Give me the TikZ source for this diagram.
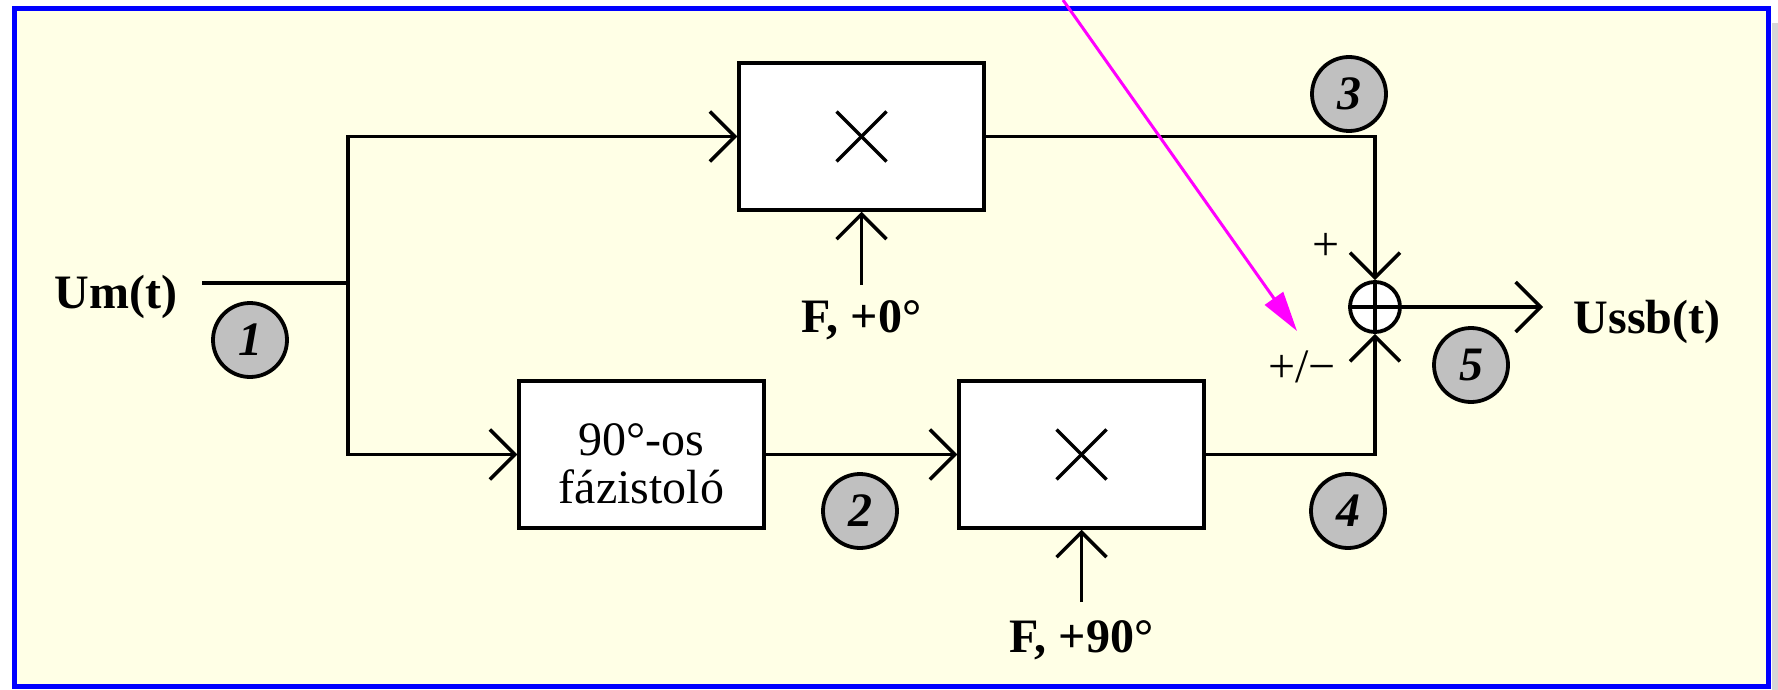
\documentclass[tikz,border=0pt]{standalone}
\usepackage{fontspec}
\setmainfont{Liberation Serif}
\usetikzlibrary{arrows.meta}
\definecolor{bgyellow}{RGB}{255,255,230}
\definecolor{badgegray}{RGB}{192,192,192}
\definecolor{shadowgray}{RGB}{214,214,214}
\definecolor{pinkarrow}{RGB}{255,0,255}
\tikzset{
  wire/.style={line width=1.75pt, black},
  arr/.style={wire, -{Straight Barb[length=12.5pt,width=25pt,line width=1.75pt]}},
  mixbox/.style={draw, fill=white, line width=1.75pt, minimum width=122.5pt, minimum height=73.5pt, inner sep=0pt},
  sumnode/.style={circle, draw, fill=white, line width=1.9pt, minimum size=25pt, inner sep=0pt},
  badge/.style={circle, draw, fill=badgegray, line width=1.9pt, minimum size=37pt, inner sep=0pt, font=\fontsize{24}{28}\selectfont\bfseries\itshape},
  lbl/.style={font=\fontsize{24}{28}\selectfont\bfseries, inner sep=0pt, anchor=base},
  plain/.style={font=\fontsize{24}{28}\selectfont, inner sep=0pt},
  pointer/.style={line width=1.5pt, pinkarrow, -{Triangle[length=20pt,width=11pt]}}
}
\begin{document}
\begin{tikzpicture}[x=0.5pt,y=-0.5pt]
\useasboundingbox (0,0) rectangle (1778,690);
\fill[white] (0,0) rectangle (1778,690);
\fill[shadowgray] (1772,23) rectangle (1778,690);
\draw[blue, line width=2.5pt, fill=bgyellow] (14,8.5) rectangle (1768.5,686);

% blocks
\node[mixbox] (mulA) at (861.5,136.5) {};
\node[mixbox] (shifter) at (641.5,454.5) {};
\node[mixbox] (mulB) at (1081.5,454.5) {};
\node[sumnode] (sum) at (1375,307) {};

% block contents
\draw[wire] ([shift={(-25,-25)}]mulA.center) -- ([shift={(25,25)}]mulA.center);
\draw[wire] ([shift={(-25,25)}]mulA.center) -- ([shift={(25,-25)}]mulA.center);
\draw[wire] ([shift={(-25,-25)}]mulB.center) -- ([shift={(25,25)}]mulB.center);
\draw[wire] ([shift={(-25,25)}]mulB.center) -- ([shift={(25,-25)}]mulB.center);
\node[plain, anchor=base] (sh1) at (641.5,455) {90°-os};
\node[plain, anchor=base] (sh2) at (641.5,503) {fázistoló};
\draw[wire] (sum.north) -- (sum.south);
\draw[wire] (sum.west) -- (sum.east);

% coordinates
\coordinate (in) at (202,283);
\coordinate (sp) at (348,283);
\coordinate (f0) at (861.5,285);
\coordinate (f90) at (1081.5,602);
\coordinate (out) at (1543,307);
\coordinate (m0) at (1063,0);
\coordinate (m1) at (1297,331);

% connectors
\draw[wire] (in) -- (sp);
\draw[arr] (sp) |- (mulA.west);
\draw[arr] (sp) |- (shifter.west);
\draw[arr] (shifter.east) -- (mulB.west);
\draw[arr] (f0) -- (mulA.south);
\draw[arr] (f90) -- (mulB.south);
\draw[arr] (mulA.east) -| (sum.north);
\draw[arr] (mulB.east) -| (sum.south);
\draw[arr] (sum.east) -- (out);

% labels
\node[lbl] (um) at (116,308) {Um(t)};
\node[lbl] (lf0) at (861.5,332) {F, +0°};
\node[lbl] (lf90) at (1081.5,652) {F, +90°};
\node[lbl] (ussb) at (1647,333) {Ussb(t)};
\node[plain] (plus) at (1326,247) {+};
\node[plain] (pm) at (1302,367) {+/−};

% badges
\node[badge] (b1) at (250,340) {1};
\node[badge] (b2) at (860,511) {2};
\node[badge] (b3) at (1349,94) {3};
\node[badge] (b4) at (1348,511) {4};
\node[badge] (b5) at (1471,365) {5};

% pointer
\draw[pointer] (m0) -- (m1);
\end{tikzpicture}
\end{document}
